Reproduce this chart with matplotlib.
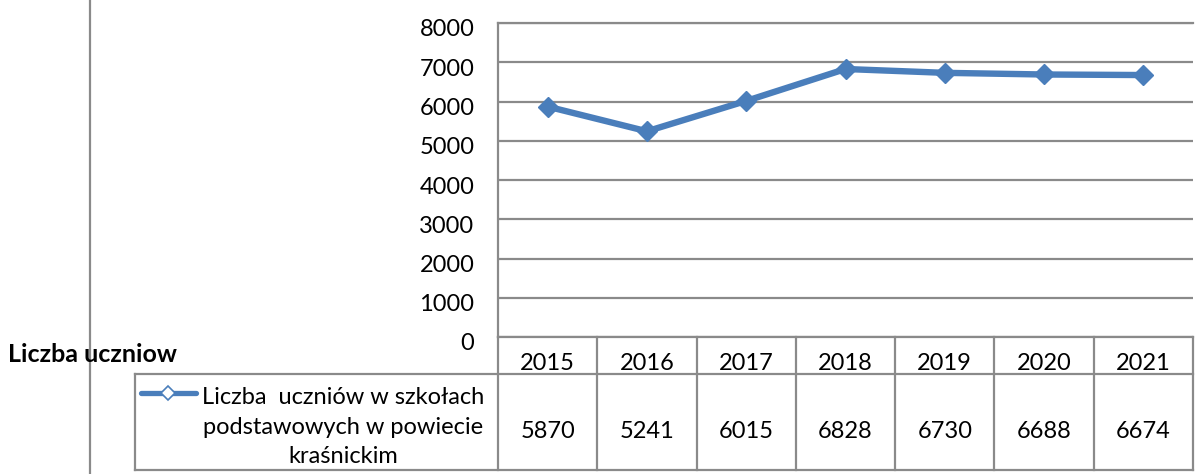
import matplotlib.pyplot as plt
from matplotlib.lines import Line2D
from matplotlib.transforms import blended_transform_factory, ScaledTranslation

years = ["2015", "2016", "2017", "2018", "2019", "2020", "2021"]
uczniowie = [5870, 5241, 6015, 6828, 6730, 6688, 6674]
y_ticks = [0, 1000, 2000, 3000, 4000, 5000, 6000, 7000, 8000]
seria = "Liczba  uczniów w szkołach\npodstawowych w powiecie\nkraśnickim"
os_y = "Liczba uczniow"

W, H = 1197, 474
BLUE = "#4a7ebb"
GRID = "#8a8a8a"
FS = 17

plt.rcParams['font.family'] = ['Lato', 'DejaVu Sans']


def fx(px):
    return px / W


def fy(py):
    return 1 - py / H


def fig_line(fig, xs, ys, **kw):
    fig.add_artist(Line2D([fx(v) for v in xs], [fy(v) for v in ys],
                          transform=fig.transFigure, color=GRID, lw=1.6, **kw))


fig = plt.figure(figsize=(W / 100, H / 100), dpi=100)
ax = fig.add_axes([fx(498), fy(337), fx(1193) - fx(498), fy(23) - fy(337)])

x = list(range(len(years)))
ax.plot(x, uczniowie, color=BLUE, lw=4.6, marker="D", ms=10.5, mec=BLUE, zorder=3)
ax.set_xlim(-0.5, len(years) - 0.5)
ax.set_ylim(y_ticks[0], y_ticks[-1])
ax.set_yticks(y_ticks)
ax.set_xticks([])
ax.tick_params(axis='y', length=0, pad=17, labelsize=FS)
ax.grid(axis='y', color=GRID, lw=1.6)
for s in ['top', 'left', 'bottom']:
    ax.spines[s].set_color(GRID)
    ax.spines[s].set_linewidth(1.6)
ax.spines['right'].set_visible(False)
for lbl in ax.get_yticklabels():
    lbl.set_transform(lbl.get_transform() + ScaledTranslation(0, -0.05, fig.dpi_scale_trans))

# data table under the plot
tr = blended_transform_factory(ax.transData, fig.transFigure)
for i in range(1, len(years)):
    ax.add_artist(Line2D([i - 0.5, i - 0.5], [fy(337), fy(470)], transform=tr,
                         color=GRID, lw=1.6, clip_on=False))
for i, (yr, v) in enumerate(zip(years, uczniowie)):
    fig.text(0, fy(370), yr, transform=tr, ha='center', va='baseline', fontsize=FS)
    fig.texts[-1].set_x(i)
    fig.text(0, fy(438), str(v), transform=tr, ha='center', va='baseline', fontsize=FS)
    fig.texts[-1].set_x(i)

fig_line(fig, [135, 1193], [374, 374])
fig_line(fig, [135, 1193], [470, 470])
fig_line(fig, [1193, 1193], [337, 470])
fig_line(fig, [135, 135], [374, 470])
fig_line(fig, [498, 498], [337, 470])
fig_line(fig, [90, 90], [0, 474])

# legend key
fig.add_artist(Line2D([fx(141), fx(196)], [fy(393), fy(393)], transform=fig.transFigure,
                      color=BLUE, lw=3.8, solid_capstyle='round'))
fig.add_artist(Line2D([fx(168)], [fy(393)], transform=fig.transFigure, marker="D",
                      ms=7, mfc='white', mec=BLUE, mew=1.2, color=BLUE))
fig.text(fx(343), fy(427), seria, ha='center', va='center', fontsize=FS, linespacing=1.5)

fig.text(fx(8), fy(355), os_y, ha='left', va='center', fontsize=18, fontweight='bold')

fig.savefig("out.png", dpi=100)
